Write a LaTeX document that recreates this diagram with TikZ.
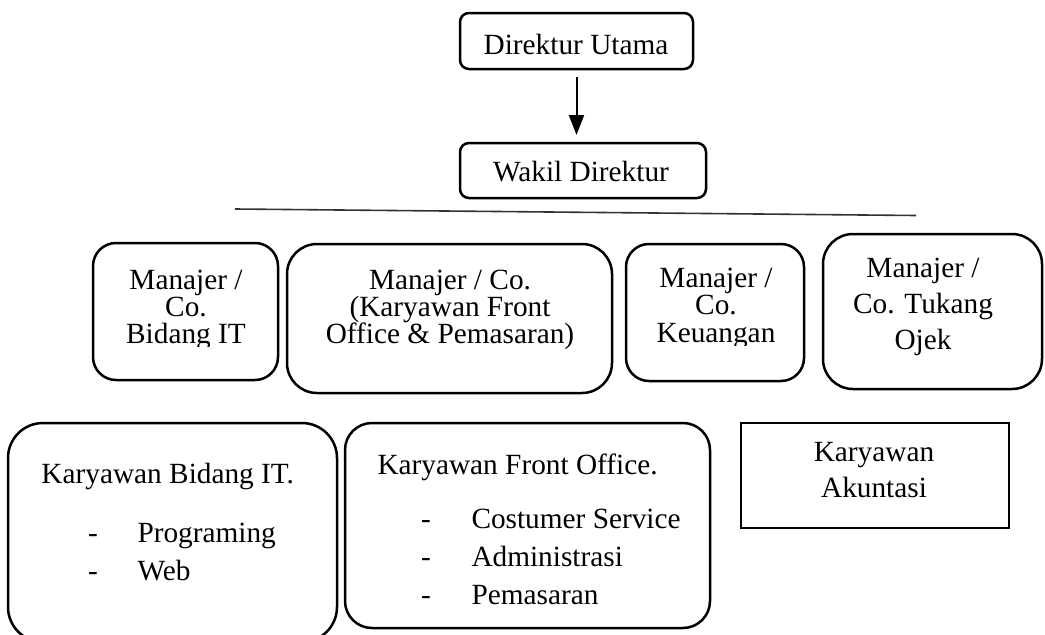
\documentclass[tikz,border=0pt]{standalone}
\usepackage{fontspec}
\setmainfont{Liberation Serif}
\usetikzlibrary{arrows.meta}
\begin{document}
\begin{tikzpicture}[x=1pt,y=-1pt,
  box/.style={draw=black, line width=2.5pt, outer sep=0pt, inner sep=0pt, fill=none},
  sqbox/.style={draw=black, line width=2.7pt, outer sep=0pt, inner sep=0pt},
  txt/.style={inner sep=0pt, outer sep=0pt, font=\fontsize{29.3}{35}\selectfont, anchor=base},
  ltxt/.style={txt, anchor=base west},
  link/.style={line width=2pt, -{Triangle[width=15pt,length=20pt]}},
  rule/.style={line width=1.6pt, draw=black!80}]
\useasboundingbox (0,0) rectangle (1045,635);
\clip (0,0) rectangle (1045,635);
% top boxes
\node[box, rounded corners=9pt, minimum width=233pt, minimum height=56pt] (du) at (576.5,41) {};
\node[box, rounded corners=9pt, minimum width=246pt, minimum height=55pt] (wd) at (583,170.5) {};
\node[txt] (tdu) at (576,54) {Direktur Utama};
\node[txt] (twd) at (581,181) {Wakil Direktur};
\draw[link, shorten <=8pt, shorten >=8pt] (du.south) -- (du.south |- wd.north);
% rule
\coordinate (hl) at (235,209);
\coordinate (hr) at (916,215.5);
\draw[rule] (hl) -- (hr);
% manager row
\node[box, rounded corners=23pt, minimum width=185pt, minimum height=137pt] (ma) at (185.5,311.5) {};
\node[box, rounded corners=30pt, minimum width=325pt, minimum height=149pt] (mb) at (449.5,318.5) {};
\node[box, rounded corners=23pt, minimum width=178pt, minimum height=137pt] (mc) at (715,312.5) {};
\node[box, rounded corners=30pt, minimum width=219pt, minimum height=155pt] (md) at (932.5,311.5) {};
\begin{scope}
\clip (90,240) rectangle (282,346);
\node[txt] (ta1) at (186,289) {Manajer /};
\node[txt] (ta2) at (186,316) {Co.};
\node[txt] (ta3) at (186,343) {Bidang IT};
\end{scope}
\node[txt] (tb1) at (450,289) {Manajer / Co.};
\node[txt] (tb2) at (450,316) {(Karyawan Front};
\node[txt] (tb3) at (450,343) {Office \& Pemasaran)};
\begin{scope}
\clip (622,240) rectangle (808,345);
\node[txt] (tc1) at (716,287) {Manajer /};
\node[txt] (tc2) at (716,314.5) {Co.};
\node[txt] (tc3) at (716,342) {Keuangan};
\end{scope}
\node[txt] (td1) at (923,277) {Manajer /};
\node[txt] (td2) at (923,313) {Co. Tukang};
\node[txt] (td3) at (923,349) {Ojek};
% staff row
\node[box, rounded corners=35pt, minimum width=329pt, minimum height=219pt] (ke) at (172.5,532.5) {};
\node[box, rounded corners=27pt, minimum width=365pt, minimum height=205pt] (kf) at (527.5,525.5) {};
\node[sqbox, minimum width=268pt, minimum height=105pt] (kg) at (875,475.5) {};
\node[ltxt] (te0) at (41.5,483) {Karyawan Bidang IT.};
\node[ltxt] (te1d) at (88,542) {-};
\node[ltxt] (te1) at (137.5,542) {Programing};
\node[ltxt] (te2d) at (88,580) {-};
\node[ltxt] (te2) at (137.5,580) {Web};
\node[ltxt] (tf0) at (377.5,474) {Karyawan Front Office.};
\node[ltxt] (tf1d) at (421,528) {-};
\node[ltxt] (tf1) at (471.5,528) {Costumer Service};
\node[ltxt] (tf2d) at (421,566) {-};
\node[ltxt] (tf2) at (471.5,566) {Administrasi};
\node[ltxt] (tf3d) at (421,604) {-};
\node[ltxt] (tf3) at (471.5,604) {Pemasaran};
\node[txt] (tg1) at (874,461) {Karyawan};
\node[txt] (tg2) at (874,497) {Akuntasi};
\end{tikzpicture}
\end{document}
